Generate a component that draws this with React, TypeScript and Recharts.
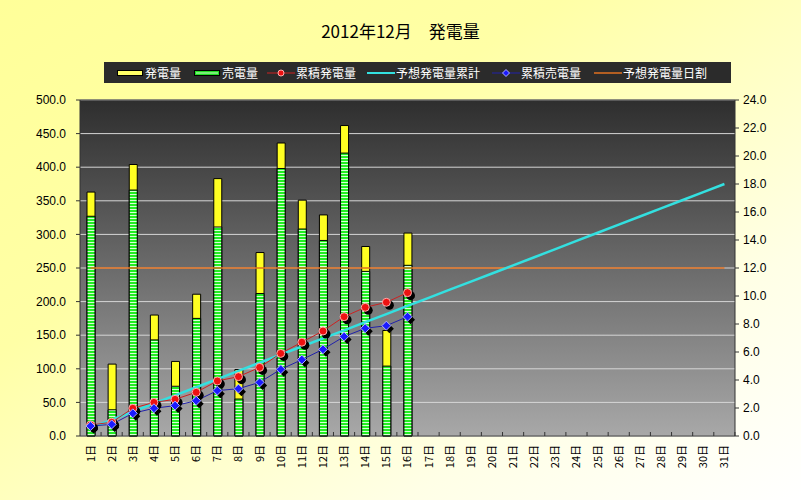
import {
  Bar,
  CartesianGrid,
  ComposedChart,
  Line,
  ReferenceLine,
  XAxis,
  YAxis,
} from "recharts";

const days = [
  "1日", "2日", "3日", "4日", "5日", "6日", "7日", "8日", "9日", "10日",
  "11日", "12日", "13日", "14日", "15日", "16日", "17日", "18日", "19日", "20日",
  "21日", "22日", "23日", "24日", "25日", "26日", "27日", "28日", "29日", "30日", "31日",
];

// 発電量 (left axis)
const generation = [
  363, 107, 404, 180, 111, 211, 383, 99, 273, 436, 351, 329, 462, 282, 157, 302,
];
// 売電量 (left axis)
const sold = [
  327, 39, 366, 143, 74, 175, 311, 55, 212, 398, 308, 291, 421, 245, 104, 254,
];
// 累積発電量 (right axis)
const cumGeneration = [
  0.79, 0.98, 1.98, 2.4, 2.62, 3.12, 3.93, 4.24, 4.9, 5.9, 6.7, 7.5, 8.52, 9.19, 9.55, 10.24,
];
// 累積売電量 (right axis)
const cumSold = [
  0.71, 0.83, 1.62, 1.98, 2.17, 2.52, 3.24, 3.38, 3.83, 4.76, 5.45, 6.19, 7.1, 7.69, 7.88, 8.52,
];
// 予想発電量累計 (right axis)
const forecastCum = [
  0.58, 1.16, 1.74, 2.32, 2.9, 3.48, 4.06, 4.65, 5.23, 5.81, 6.39, 6.97, 7.55, 8.13, 8.71, 9.29,
  9.87, 10.45, 11.03, 11.61, 12.19, 12.77, 13.35, 13.94, 14.52, 15.1, 15.68, 16.26, 16.84, 17.42, 18.0,
];
// 予想発電量日割 (left axis)
const forecastDaily = [
  250, 250, 250, 250, 250, 250, 250, 250, 250, 250, 250, 250, 250, 250, 250, 250,
  250, 250, 250, 250, 250, 250, 250, 250, 250, 250, 250, 250, 250, 250, 250,
];

const leftTicks = [0, 50, 100, 150, 200, 250, 300, 350, 400, 450, 500];
const rightTicks = [0, 2, 4, 6, 8, 10, 12, 14, 16, 18, 20, 22, 24];

const data = days.map((d, i) => ({
  day: d,
  gen: generation[i] ?? null,
  sold: sold[i] ?? null,
  cumGen: cumGeneration[i] ?? null,
  cumSold: cumSold[i] ?? null,
  fcCum: forecastCum[i],
  fcDaily: forecastDaily[i],
}));

const jpFont = "'Noto Sans CJK JP', 'Liberation Sans', sans-serif";
const numFont = "'Liberation Sans', Arial, sans-serif";

function DayTick(props: any) {
  const { x, y, payload } = props;
  return (
    <g>
      <line x1={x + 10.5} x2={x + 10.5} y1={436} y2={432} stroke="#333" />
      <text
        x={x}
        y={y}
        transform={`rotate(-90 ${x} ${y})`}
        textAnchor="end"
        dy="0.36em"
        fontSize={11}
        fontFamily={jpFont}
        fill="#000"
      >
        {payload.value}
      </text>
    </g>
  );
}

function RedDot(props: any) {
  const { cx, cy, index } = props;
  if (cy == null || cx == null) return <g key={"r" + index} />;
  return (
    <g key={"r" + index}>
      <circle cx={cx + 3} cy={cy + 3} r={4.5} fill="#000" />
      <circle cx={cx} cy={cy} r={4} fill="#ee1111" stroke="#ffb0b0" strokeWidth={1} />
    </g>
  );
}

function BlueDot(props: any) {
  const { cx, cy, index } = props;
  if (cy == null || cx == null) return <g key={"b" + index} />;
  const d = (x: number, y: number) =>
    `M${x},${y - 4.5}L${x + 4.5},${y}L${x},${y + 4.5}L${x - 4.5},${y}Z`;
  return (
    <g key={"b" + index}>
      <path d={d(cx + 3, cy + 3)} fill="#000" />
      <path d={d(cx, cy)} fill="#1a1aff" stroke="#b0b0ff" strokeWidth={1} />
    </g>
  );
}

const legendItems = [
  { left: 12, label: "発電量", kind: "yellow" },
  { left: 89, label: "売電量", kind: "green" },
  { left: 163, label: "累積発電量", kind: "red" },
  { left: 263, label: "予想発電量累計", kind: "cyan" },
  { left: 388, label: "累積売電量", kind: "blue" },
  { left: 490, label: "予想発電量日割", kind: "orange" },
];

function Swatch({ kind }: { kind: string }) {
  return (
    <svg width={28} height={12} style={{ display: "block" }}>
      {kind === "yellow" && (
        <rect x={1.5} y={3.5} width={25} height={5} fill="#ffff66" stroke="#000" />
      )}
      {kind === "green" && (
        <>
          <rect x={1.5} y={3.5} width={25} height={5} fill="#22dd22" stroke="#000" />
          <line x1={3} x2={25} y1={6} y2={6} stroke="#ccffcc" />
        </>
      )}
      {kind === "red" && (
        <>
          <line x1={0} x2={28} y1={6} y2={6} stroke="#cc2222" strokeWidth={1} />
          <circle cx={14} cy={6} r={3} fill="#ee1111" stroke="#ffb0b0" />
        </>
      )}
      {kind === "cyan" && (
        <line x1={0} x2={28} y1={6} y2={6} stroke="#33e0e0" strokeWidth={2} />
      )}
      {kind === "blue" && (
        <>
          <line x1={0} x2={28} y1={6} y2={6} stroke="#2222aa" strokeWidth={1} />
          <path d="M14,2.5L17.5,6L14,9.5L10.5,6Z" fill="#1a1aff" stroke="#b0b0ff" />
        </>
      )}
      {kind === "orange" && (
        <line x1={0} x2={28} y1={6} y2={6} stroke="#e07020" strokeWidth={1.5} />
      )}
    </svg>
  );
}

export default function App() {
  return (
    <div
      style={{
        position: "absolute",
        left: 0,
        top: 0,
        width: 801,
        height: 500,
        overflow: "hidden",
        background:
          "linear-gradient(to bottom right, #ffff99 0%, #ffffa6 35%, #ffffe6 75%, #ffffff 100%)",
      }}
    >
      <div
        style={{
          position: "absolute",
          left: 0,
          top: 18,
          width: 801,
          textAlign: "center",
          fontFamily: jpFont,
          fontSize: 17,
          color: "#000",
        }}
      >
        2012年12月　発電量
      </div>

      <div
        style={{
          position: "absolute",
          left: 104,
          top: 62,
          width: 627,
          height: 21,
          background: "#2b2b2b",
          zIndex: 2,
        }}
      >
        {legendItems.map((it) => (
          <div
            key={it.label}
            style={{
              position: "absolute",
              left: it.left,
              top: 0,
              height: 21,
              display: "flex",
              alignItems: "center",
              color: "#fff",
              fontFamily: jpFont,
              fontSize: 12,
            }}
          >
            <Swatch kind={it.kind} />
            <span style={{ marginLeft: 1 }}>{it.label}</span>
          </div>
        ))}
      </div>

      <ComposedChart
        width={801}
        height={500}
        data={data}
        margin={{ top: 100, right: 0, bottom: 0, left: 0 }}
        barGap={-8}
      >
        <defs>
          <linearGradient id="plotBg" x1="0" y1="0" x2="0" y2="1">
            <stop offset="0%" stopColor="#2e2e2e" />
            <stop offset="100%" stopColor="#a8a8a8" />
          </linearGradient>
          <pattern id="greenStripe" width={4} height={3} patternUnits="userSpaceOnUse">
            <rect x={0} y={0} width={4} height={2} fill="#22ee22" />
            <rect x={0} y={2} width={4} height={1} fill="#d8ffd8" />
          </pattern>
        </defs>
        <CartesianGrid
          vertical={false}
          stroke="#d6d6d6"
          fill="url(#plotBg)"
          fillOpacity={1}
          yAxisId="left"
        />
        <XAxis
          dataKey="day"
          xAxisId={0}
          interval={0}
          height={64}
          tick={<DayTick />}
          tickLine={false}
          tickSize={0}
          tickMargin={9}
          axisLine={{ stroke: "#333" }}
        />
        <YAxis
          yAxisId="left"
          orientation="left"
          width={80}
          domain={[0, 500]}
          ticks={leftTicks}
          interval={0}
          tickFormatter={(v: number) => v.toFixed(1)}
          tick={{ fontSize: 12, fontFamily: numFont, fill: "#000" }}
          tickSize={4}
          tickMargin={10}
          tickLine={{ stroke: "#333" }}
          axisLine={{ stroke: "#333" }}
        />
        <YAxis
          yAxisId="right"
          orientation="right"
          width={66}
          domain={[0, 24]}
          ticks={rightTicks}
          interval={0}
          tickFormatter={(v: number) => v.toFixed(1)}
          tick={{ fontSize: 12, fontFamily: numFont, fill: "#000" }}
          tickSize={4}
          tickMargin={4}
          tickLine={{ stroke: "#333" }}
          axisLine={{ stroke: "#333" }}
        />
        <ReferenceLine yAxisId="left" y={500} stroke="#333" />
        <Bar
          yAxisId="left"
          dataKey="gen"
          name="発電量"
          barSize={8}
          fill="#ffff22"
          stroke="#000"
          strokeWidth={1}
          isAnimationActive={false}
        />
        <Bar
          yAxisId="left"
          dataKey="sold"
          name="売電量"
          barSize={8}
          fill="url(#greenStripe)"
          stroke="#000"
          strokeWidth={1}
          isAnimationActive={false}
        />
        <Line
          yAxisId="left"
          dataKey="fcDaily"
          name="予想発電量日割"
          stroke="#e07020"
          strokeWidth={1.5}
          dot={false}
          activeDot={false}
          isAnimationActive={false}
        />
        <Line
          yAxisId="right"
          dataKey="fcCum"
          name="予想発電量累計"
          type="linear"
          stroke="#33e0e0"
          strokeWidth={2.5}
          dot={false}
          activeDot={false}
          isAnimationActive={false}
        />
        <Line
          yAxisId="right"
          dataKey="cumGen"
          name="累積発電量"
          type="linear"
          stroke="#cc2222"
          strokeWidth={1}
          dot={RedDot}
          activeDot={false}
          isAnimationActive={false}
        />
        <Line
          yAxisId="right"
          dataKey="cumSold"
          name="累積売電量"
          type="linear"
          stroke="#2222aa"
          strokeWidth={1}
          dot={BlueDot}
          activeDot={false}
          isAnimationActive={false}
        />
      </ComposedChart>
    </div>
  );
}
